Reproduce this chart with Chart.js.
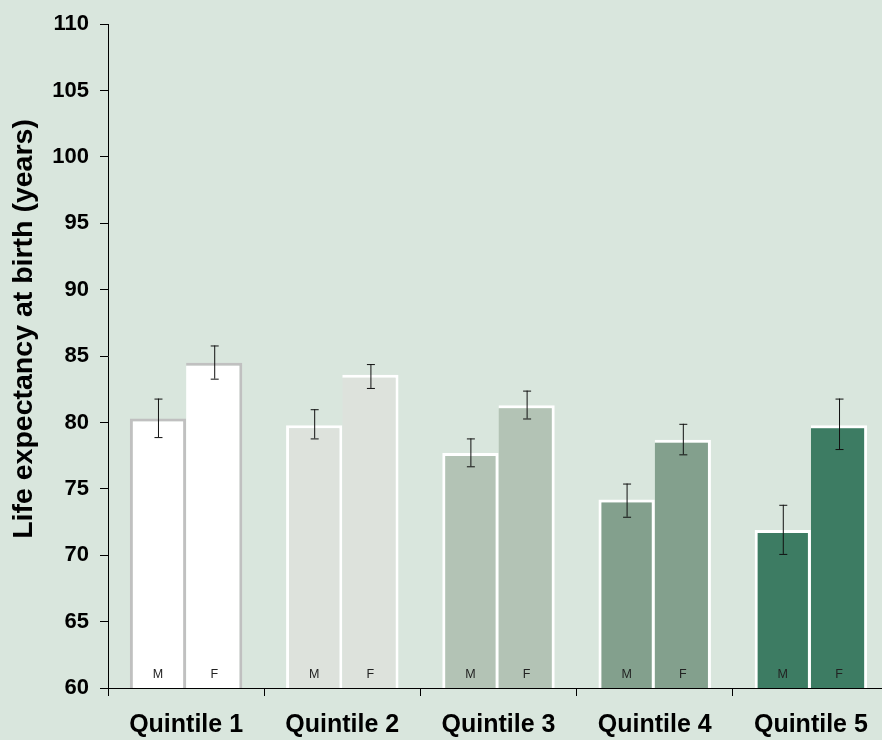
<!DOCTYPE html>
<html>
<head>
<meta charset="utf-8">
<script src="https://cdn.jsdelivr.net/npm/chart.js@4.4.1/dist/chart.umd.min.js"></script>
<style>
  html, body { margin: 0; padding: 0; background: #d9e6dd; overflow: hidden; }
  canvas { display: block; }
</style>
</head>
<body>
<canvas id="chart" width="890" height="740"></canvas>
<script>
// quintile categories and the M / F bars in each
const categories = ["Quintile 1", "Quintile 2", "Quintile 3", "Quintile 4", "Quintile 5"];
const sexLabels = ["M", "F"];

const maleValues = [80.3, 79.8, 77.7, 74.2, 71.9];
const maleLow = [78.9, 78.8, 76.7, 72.9, 70.1];
const maleHigh = [81.8, 81.0, 78.8, 75.4, 73.8];

const femaleValues = [84.5, 83.6, 81.3, 78.7, 79.8];
const femaleLow = [83.3, 82.6, 80.3, 77.6, 78.0];
const femaleHigh = [85.8, 84.4, 82.4, 79.9, 81.8];

const yTicks = [60, 65, 70, 75, 80, 85, 90, 95, 100, 105, 110];

const fillColors = ["#ffffff", "#dde2dc", "#b3c3b5", "#83a08d", "#3d7c63"];
const edgeColors = ["#c0c0c0", "#ffffff", "#ffffff", "#ffffff", "#ffffff"];

const lows = [maleLow, femaleLow];
const highs = [maleHigh, femaleHigh];

// error bars + the little M/F letters inside the bars
const extras = {
    id: "extras",
    afterDatasetsDraw(chart) {
        const ctx = chart.ctx;
        const y = chart.scales.y;
        ctx.save();
        chart.data.datasets.forEach((ds, di) => {
            const meta = chart.getDatasetMeta(di);
            meta.data.forEach((bar, i) => {
                const top = y.getPixelForValue(highs[di][i]);
                const bot = y.getPixelForValue(lows[di][i]);
                ctx.strokeStyle = "#111";
                ctx.lineWidth = 1;
                ctx.beginPath();
                ctx.moveTo(bar.x + 0.5, top);
                ctx.lineTo(bar.x + 0.5, bot);
                ctx.moveTo(bar.x - 3.5, top + 0.5);
                ctx.lineTo(bar.x + 4.5, top + 0.5);
                ctx.moveTo(bar.x - 3.5, bot + 0.5);
                ctx.lineTo(bar.x + 4.5, bot + 0.5);
                ctx.stroke();

                ctx.fillStyle = "#222";
                ctx.font = "12.5px 'Liberation Sans', Arial, sans-serif";
                ctx.textAlign = "center";
                ctx.textBaseline = "middle";
                ctx.fillText(sexLabels[di], bar.x, y.bottom - 13);
            });
        });

        // y axis title
        ctx.translate(24, 329);
        ctx.rotate(-Math.PI / 2);
        ctx.fillStyle = "#000";
        ctx.font = "bold 28.5px 'Liberation Sans', Arial, sans-serif";
        ctx.textAlign = "center";
        ctx.textBaseline = "middle";
        ctx.fillText("Life expectancy at birth (years)", 0, 0);
        ctx.restore();
    }
};

new Chart(document.getElementById("chart"), {
    type: "bar",
    data: {
        labels: categories,
        datasets: [
            {
                label: "M",
                data: maleValues,
                backgroundColor: fillColors,
                borderColor: edgeColors,
                borderWidth: { top: 3, left: 3, right: 3, bottom: 0 },
                borderSkipped: false,
                categoryPercentage: 0.72,
                barPercentage: 1.0
            },
            {
                label: "F",
                data: femaleValues,
                backgroundColor: fillColors,
                borderColor: edgeColors,
                borderWidth: { top: 3, left: 0, right: 3, bottom: 0 },
                borderSkipped: false,
                categoryPercentage: 0.72,
                barPercentage: 1.0
            }
        ]
    },
    options: {
        responsive: false,
        animation: false,
        devicePixelRatio: 1,
        layout: { padding: { top: 22, right: 1, left: 0, bottom: 0 } },
        plugins: {
            legend: { display: false },
            tooltip: { enabled: false }
        },
        scales: {
            x: {
                offset: true,
                afterFit: (s) => { s.height = 52; },
                border: { display: true, color: "#000", width: 1 },
                grid: {
                    offset: true,
                    drawOnChartArea: false,
                    drawTicks: true,
                    tickLength: 8,
                    color: "#000"
                },
                ticks: {
                    color: "#000",
                    padding: 14,
                    font: { family: "'Liberation Sans', Arial, sans-serif", size: 25, weight: "bold" }
                }
            },
            y: {
                min: 60,
                max: 110,
                afterFit: (s) => { s.width = 108; },
                afterBuildTicks: (s) => { s.ticks = yTicks.map(v => ({ value: v })); },
                border: { display: true, color: "#000", width: 1 },
                grid: {
                    drawOnChartArea: false,
                    drawTicks: true,
                    tickLength: 8,
                    color: "#000"
                },
                ticks: {
                    color: "#000",
                    padding: 11,
                    font: { family: "'Liberation Sans', Arial, sans-serif", size: 22, weight: "bold" }
                }
            }
        }
    },
    plugins: [extras]
});
</script>
</body>
</html>
